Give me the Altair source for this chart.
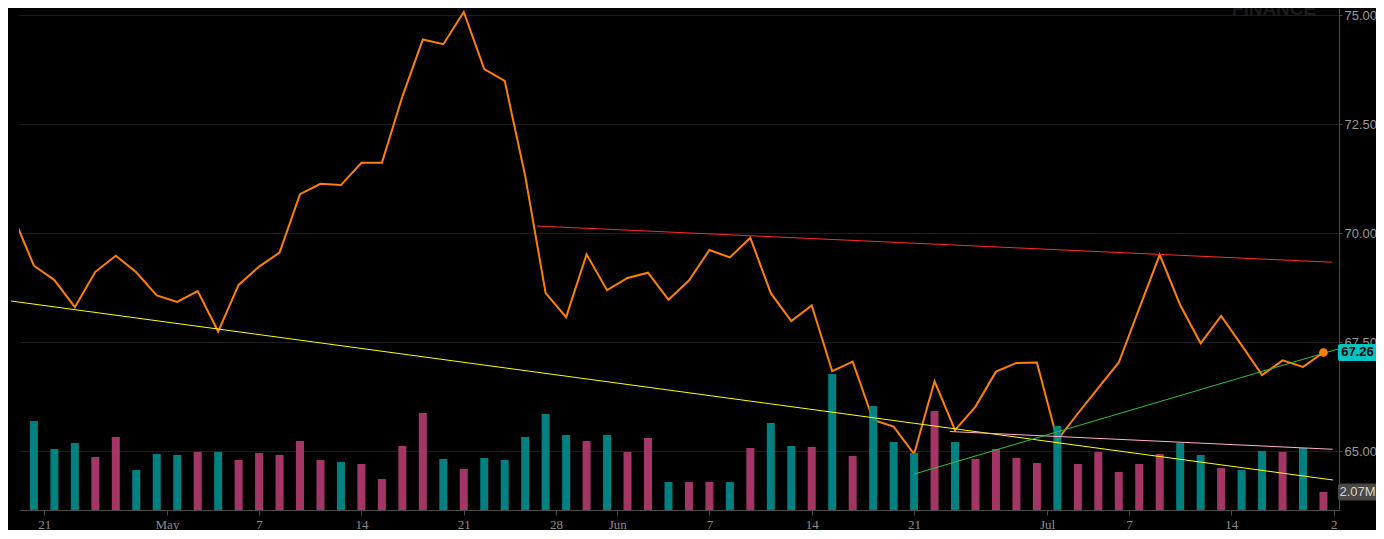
import json
import altair as alt
import pandas as pd

# ---------------- data ----------------
# trading-session index (-1 is the partly hidden session before the first bar)
session = list(range(-1, 64))
close = [70.37, 69.25, 68.92, 68.30, 69.11, 69.48, 69.10, 68.57, 68.42, 68.67, 67.74,
         68.81, 69.23, 69.55, 70.89, 71.13, 71.10, 71.61, 71.61, 73.13, 74.44, 74.33,
         75.07, 73.76, 73.49, 71.31, 68.62, 68.07, 69.51, 68.69, 68.97, 69.09, 68.47,
         68.91, 69.61, 69.44, 69.89, 68.62, 67.98, 68.34, 66.83, 67.05, 65.71, 65.56,
         64.93, 66.60, 65.48, 66.02, 66.82, 67.02, 67.03, 65.25, 65.86, 66.45, 67.03,
         68.27, 69.50, 68.35, 67.47, 68.10, 67.43, 66.74, 67.08, 66.93, 67.26]

# volume (millions) for sessions 0..63
volume = [10.24, 7.02, 7.71, 6.10, 8.40, 4.60, 6.44, 6.33, 6.67, 6.67,
          5.75, 6.56, 6.33, 7.94, 5.75, 5.52, 5.29, 3.57, 7.36, 11.16,
          5.87, 4.72, 5.98, 5.75, 8.40, 11.04, 8.63, 7.94, 8.63, 6.67,
          8.28, 3.22, 3.22, 3.22, 3.22, 7.13, 10.01, 7.36, 7.25, 15.65,
          6.21, 11.96, 7.82, 6.56, 11.39, 7.82, 5.87, 7.02, 5.98, 5.41,
          9.66, 5.29, 6.67, 4.37, 5.29, 6.44, 7.71, 6.33, 4.83, 4.60,
          6.79, 6.67, 7.13, 2.07]
direction = [
    "up", "up", "up", "down", "down", "up", "up", "up", "down", "up",
    "down", "down", "down", "down", "down", "up", "down", "down", "down", "down",
    "up", "down", "up", "up", "up", "up", "up", "down", "up", "down",
    "down", "up", "down", "down", "up", "down", "up", "up", "down", "up",
    "down", "up", "up", "up", "down", "up", "down", "down", "down", "down",
    "up", "down", "down", "down", "down", "down", "up", "up", "down", "up",
    "up", "down", "up", "down"]

# x-axis ticks (session positions) and their labels
tick_pos = [0.5, 6.5, 11, 16, 21, 25.5, 28.5, 33, 38, 43, 49.5, 53.5, 58.5, 63.5]
tick_lbl = ["21", "May", "7", "14", "21", "28", "Jun", "7", "14", "21", "Jul", "7", "14", "2"]

price_ticks = [65.0, 67.5, 70.0, 72.5, 75.0]

# drawn trend lines: colour, start session, start price, end session, end price
trend_colors = ["#ffff00", "#ff2a2a", "#ffb3c6", "#2fbf3f"]
trend_x0 = [-1.115, 24.58, 44.75, 43.0]
trend_y0 = [68.44, 70.16, 65.447, 64.47]
trend_x1 = [63.47, 63.42, 63.45, 64.0]
trend_y1 = [64.335, 69.33, 65.04, 67.38]

# ---------------- styling ----------------
TEAL = "#008b8b"
PINK = "#b03a6e"
ORANGE = "#ff8000"
W, H = 1320, 502

price_df = pd.DataFrame({"i": session, "p": close})
vol_df = pd.DataFrame({"i": session[1:], "v": volume, "dir": direction})
last_df = price_df.tail(1).assign(lbl=lambda d: d["p"].map(lambda v: f"{v:.2f}"))
vlast_df = vol_df.tail(1).assign(lbl=lambda d: d["v"].map(lambda v: f"{v:.2f}M"))

xscale = alt.Scale(domain=[-0.485, 63.515], nice=False, zero=False)
pscale = alt.Scale(domain=[63.647, 75.161], nice=False, zero=False)
vscale = alt.Scale(domain=[0, 57.73], nice=False)

label_expr = f"{json.dumps(tick_lbl)}[indexof({json.dumps(tick_pos)}, datum.value)]"
xaxis = alt.Axis(values=tick_pos, labelExpr=label_expr, orient="bottom", grid=False,
                 domainColor="#4a4a4a", tickColor="#4a4a4a", tickSize=5,
                 labelColor="#8c8c8c", labelFont="Liberation Serif", labelFontSize=13,
                 labelPadding=3, labelFlush=False, labelOverlap=False, title=None)
paxis = alt.Axis(values=price_ticks, format=".2f", orient="right", grid=True,
                 gridColor="#1c1c1c", domainColor="#4a4a4a", tickColor="#4a4a4a",
                 tickSize=3, labelColor="#9a9a9a", labelFont="Liberation Sans",
                 labelFontSize=13, labelPadding=2, title=None)

X = alt.X("i:Q", scale=xscale, axis=xaxis)

line = alt.Chart(price_df).mark_line(color=ORANGE, strokeWidth=2, clip=True).encode(
    x=X, y=alt.Y("p:Q", scale=pscale, axis=paxis))

bars = alt.Chart(vol_df).mark_bar(size=8, opacity=0.93).encode(
    x=X,
    y=alt.Y("v:Q", scale=vscale, axis=None),
    color=alt.Color("dir:N", scale=alt.Scale(domain=["up", "down"], range=[TEAL, PINK]),
                    legend=None))

trend_layers = []
for c, x0, y0, x1, y1 in zip(trend_colors, trend_x0, trend_y0, trend_x1, trend_y1):
    df = pd.DataFrame({"i": [x0, x1], "p": [y0, y1]})
    trend_layers.append(
        alt.Chart(df).mark_line(color=c, strokeWidth=1).encode(
            x=X, y=alt.Y("p:Q", scale=pscale, axis=None)))

dot = alt.Chart(last_df).mark_circle(color=ORANGE, size=75, opacity=1).encode(
    x=X, y=alt.Y("p:Q", scale=pscale, axis=None))

plabel_box = alt.Chart(last_df).mark_rect(color="#00c4c4", cornerRadius=2,
                                          yOffset=-8.5, y2Offset=8.5).encode(
    x=alt.value(W - 1), x2=alt.value(W + 38),
    y=alt.Y("p:Q", scale=pscale, axis=None), y2="p:Q")
plabel_txt = alt.Chart(last_df).mark_text(font="Liberation Sans", fontWeight="bold",
                                          fontSize=13, color="#050505", align="center",
                                          baseline="middle").encode(
    x=alt.value(W + 18.5), y=alt.Y("p:Q", scale=pscale, axis=None), text="lbl:N")

vlabel_box = alt.Chart(vlast_df).mark_rect(color="#4a4744", cornerRadius=2,
                                           yOffset=-8.5, y2Offset=8.5).encode(
    x=alt.value(W - 1), x2=alt.value(W + 38),
    y=alt.Y("v:Q", scale=vscale, axis=None), y2="v:Q")
vlabel_txt = alt.Chart(vlast_df).mark_text(font="Liberation Sans", fontSize=13,
                                           color="#d6d6d6", align="center",
                                           baseline="middle").encode(
    x=alt.value(W + 18.5), y=alt.Y("v:Q", scale=vscale, axis=None), text="lbl:N")

watermark = alt.Chart(pd.DataFrame({"t": ["FINANCE"]})).mark_text(
    font="Liberation Sans", fontWeight="bold", fontSize=19, color="#1b1b1b",
    align="center", baseline="alphabetic").encode(
    x=alt.value(1255), y=alt.value(7), text="t:N")

chart = alt.layer(
    watermark, line, bars, *trend_layers, dot,
    plabel_box, plabel_txt, vlabel_box, vlabel_txt
).resolve_scale(y="independent").properties(
    width=W, height=H,
    autosize=alt.AutoSizeParams(type="none"),
    padding={"left": 11, "top": 0, "right": 37, "bottom": 20},
    usermeta={"embedOptions": {"defaultStyle": "html, body { background: #000000; }"}},
).configure(background="#000000").configure_view(stroke=None)

chart.save("out.html", embed_options={"renderer": "svg", "actions": False})
